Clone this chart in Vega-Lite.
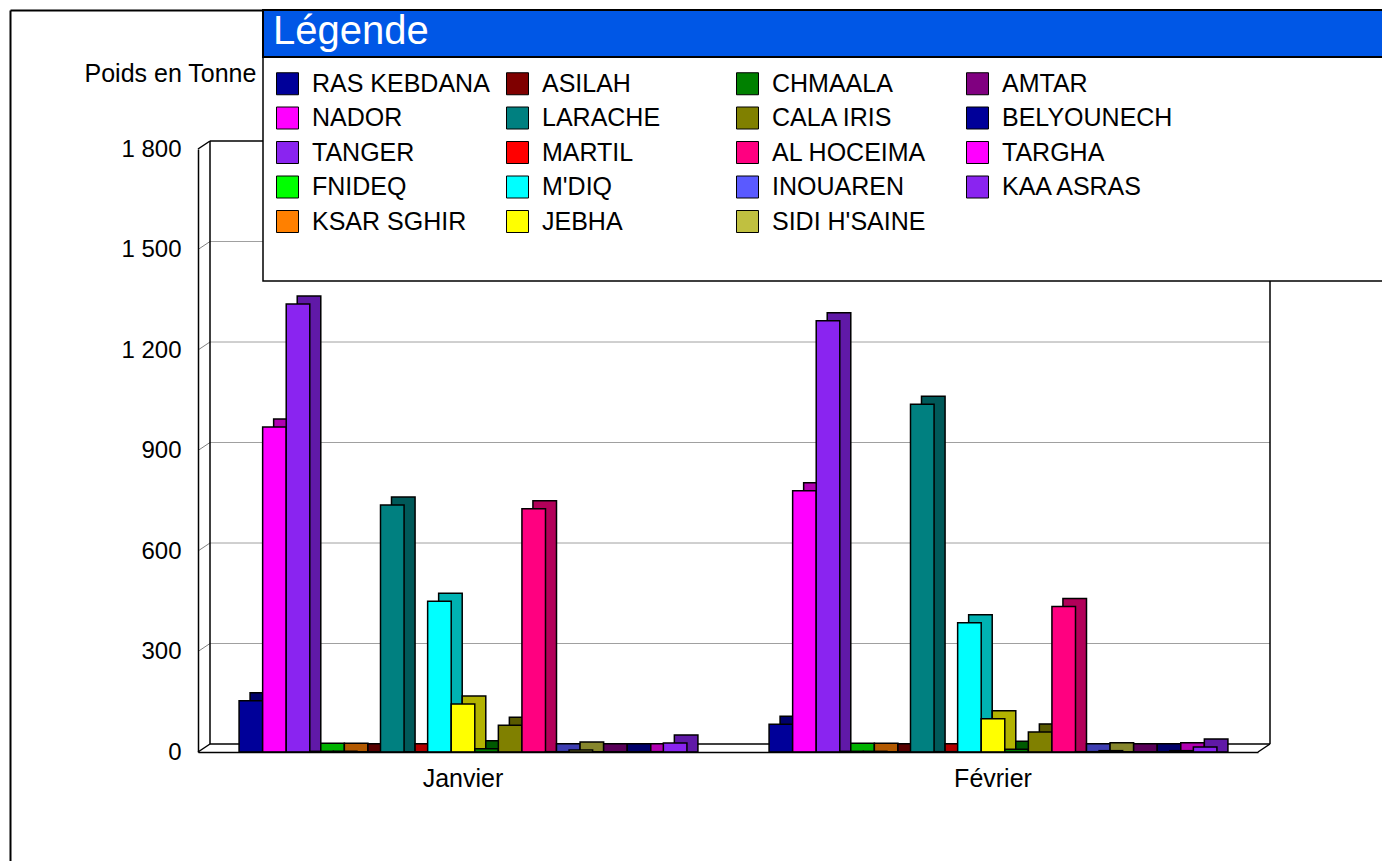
{
  "$schema": "https://vega.github.io/schema/vega-lite/v6.json",
  "width": 1060,
  "height": 603,
  "autosize": {"type": "none"},
  "padding": {"left": 198, "top": 149, "right": 124, "bottom": 109},
  "background": "white",
  "title": {"text": "Légende", "anchor": "start", "frame": "group", "orient": "top", "fontSize": 40, "font": "Liberation Sans", "fontWeight": "normal", "color": "white", "baseline": "alphabetic", "offset": 0, "dx": 75, "dy": 74, "zindex": 4},
  "config": {
    "view": {"stroke": null},
    "font": "Liberation Sans",
    "axis": {"labelFont": "Liberation Sans", "titleFont": "Liberation Sans", "labelColor": "black", "titleColor": "black", "domainColor": "black", "domainWidth": 1.5, "ticks": false, "grid": false, "zindex": 1},
    "legend": {"labelFont": "Liberation Sans", "titleFont": "Liberation Sans"}
  },
  "layer": [
    {
      "data": {"values": [{"k1": 0.5, "k2": 1}]},
      "mark": {"type": "rect", "strokeWidth": 0},
      "encoding": {
        "x": {"datum": 0, "type": "quantitative", "scale": {"domain": [0, 1], "range": [-188, 1300]},
          "axis": {"orient": "top", "offset": 139, "labels": false, "ticks": false, "title": null, "grid": false, "domainColor": "black", "domainWidth": 2, "zindex": 1}},
        "x2": {"datum": 1},
        "y": {"datum": 0, "type": "quantitative", "scale": {"domain": [0, 1], "range": [760, -139]},
          "axis": {"orient": "left", "offset": 188, "labels": false, "ticks": false, "title": null, "grid": false, "domainColor": "black", "domainWidth": 2, "zindex": 1}},
        "y2": {"datum": 1},
        "fill": {"field": "k1", "type": "quantitative", "scale": {"domain": [0, 1], "range": ["white", "white"]},
          "legend": {"orient": "none", "legendX": 65, "legendY": -92, "direction": "horizontal", "gradientLength": 1300, "gradientThickness": 224, "gradientStrokeColor": "black", "gradientStrokeWidth": 1.5, "padding": 0, "title": null, "labelOpacity": 0, "labelFontSize": 1, "labelOffset": 0, "zindex": 1}},
        "stroke": {"field": "k2", "type": "quantitative", "scale": {"domain": [0, 2], "range": ["#0057e6", "#0057e6"]},
          "legend": {"orient": "none", "legendX": 65, "legendY": -139, "direction": "horizontal", "gradientLength": 1300, "gradientThickness": 47, "gradientStrokeColor": "black", "gradientStrokeWidth": 2, "padding": 0, "title": null, "labelOpacity": 0, "labelFontSize": 1, "labelOffset": 0, "zindex": 3}}
      }
    },
    {
      "layer": [
        {
          "layer": [
            {
              "data": {"values": [{"v": 300}, {"v": 600}, {"v": 900}, {"v": 1200}, {"v": 1500}]},
              "layer": [
                {
                  "mark": {"type": "rule", "color": "#a0a0a0", "strokeWidth": 1, "xOffset": 12, "x2Offset": 12, "yOffset": -8},
                  "encoding": {
                    "x": {"datum": 0, "type": "quantitative", "scale": {"domain": [0, 1]}, "axis": null},
                    "x2": {"datum": 1},
                    "y": {"field": "v", "type": "quantitative"}
                  }
                },
                {
                  "mark": {"type": "rule", "color": "#808080", "strokeWidth": 1, "x2Offset": 12, "y2Offset": -8},
                  "encoding": {
                    "x": {"datum": 0, "type": "quantitative", "scale": {"domain": [0, 1]}, "axis": null},
                    "x2": {"datum": 0},
                    "y": {"field": "v", "type": "quantitative"},
                    "y2": {"field": "v"}
                  }
                }
              ]
            },
            {
              "data": {"values": [{"v": 0}, {"v": 1800}]},
              "layer": [
                {
                  "mark": {"type": "rule", "color": "black", "strokeWidth": 1.5, "xOffset": 12, "x2Offset": 12, "yOffset": -8},
                  "encoding": {
                    "x": {"datum": 0, "type": "quantitative", "scale": {"domain": [0, 1]}, "axis": null},
                    "x2": {"datum": 1},
                    "y": {"field": "v", "type": "quantitative"}
                  }
                },
                {
                  "mark": {"type": "rule", "color": "black", "strokeWidth": 1.5, "x2Offset": 12, "y2Offset": -8},
                  "encoding": {
                    "x": {"datum": 0, "type": "quantitative", "scale": {"domain": [0, 1]}, "axis": null},
                    "x2": {"datum": 0},
                    "y": {"field": "v", "type": "quantitative"},
                    "y2": {"field": "v"}
                  }
                }
              ]
            },
            {
              "data": {"values": [{"edge": 0, "v0": 0, "v1": 1800}, {"edge": 1, "v0": 0, "v1": 1800}]},
              "layer": [
                {
                  "mark": {"type": "rule", "color": "black", "strokeWidth": 1.5, "xOffset": 12, "yOffset": -8, "y2Offset": -8},
                  "encoding": {
                    "x": {"field": "edge", "type": "quantitative", "scale": {"domain": [0, 1]}, "axis": null},
                    "y": {"field": "v0", "type": "quantitative"},
                    "y2": {"field": "v1"}
                  }
                },
                {
                  "transform": [{"filter": "datum.edge == 1"}],
                  "mark": {"type": "rule", "color": "black", "strokeWidth": 1.5, "x2Offset": 12, "y2Offset": -8},
                  "encoding": {
                    "x": {"field": "edge", "type": "quantitative", "scale": {"domain": [0, 1]}, "axis": null},
                    "x2": {"field": "edge"},
                    "y": {"field": "v0", "type": "quantitative"},
                    "y2": {"field": "v0"}
                  }
                }
              ]
            }
          ]
        },
        {
          "data": {"values": [
            {"month": "Janvier", "port": "RAS KEBDANA", "value": 153},
            {"month": "Janvier", "port": "NADOR", "value": 970},
            {"month": "Janvier", "port": "TANGER", "value": 1337},
            {"month": "Janvier", "port": "FNIDEQ", "value": 2},
            {"month": "Janvier", "port": "KSAR SGHIR", "value": 2},
            {"month": "Janvier", "port": "ASILAH", "value": 0.5},
            {"month": "Janvier", "port": "LARACHE", "value": 737},
            {"month": "Janvier", "port": "MARTIL", "value": 1},
            {"month": "Janvier", "port": "M'DIQ", "value": 450},
            {"month": "Janvier", "port": "JEBHA", "value": 143},
            {"month": "Janvier", "port": "CHMAALA", "value": 10},
            {"month": "Janvier", "port": "CALA IRIS", "value": 80},
            {"month": "Janvier", "port": "AL HOCEIMA", "value": 726},
            {"month": "Janvier", "port": "INOUAREN", "value": 1},
            {"month": "Janvier", "port": "SIDI H'SAINE", "value": 6},
            {"month": "Janvier", "port": "AMTAR", "value": 0.5},
            {"month": "Janvier", "port": "BELYOUNECH", "value": 0.5},
            {"month": "Janvier", "port": "TARGHA", "value": 1},
            {"month": "Janvier", "port": "KAA ASRAS", "value": 27},
            {"month": "Février", "port": "RAS KEBDANA", "value": 83},
            {"month": "Février", "port": "NADOR", "value": 780},
            {"month": "Février", "port": "TANGER", "value": 1287},
            {"month": "Février", "port": "FNIDEQ", "value": 2},
            {"month": "Février", "port": "KSAR SGHIR", "value": 2},
            {"month": "Février", "port": "ASILAH", "value": 0.5},
            {"month": "Février", "port": "LARACHE", "value": 1038},
            {"month": "Février", "port": "MARTIL", "value": 1},
            {"month": "Février", "port": "M'DIQ", "value": 386},
            {"month": "Février", "port": "JEBHA", "value": 99},
            {"month": "Février", "port": "CHMAALA", "value": 8},
            {"month": "Février", "port": "CALA IRIS", "value": 60},
            {"month": "Février", "port": "AL HOCEIMA", "value": 434},
            {"month": "Février", "port": "INOUAREN", "value": 1},
            {"month": "Février", "port": "SIDI H'SAINE", "value": 4},
            {"month": "Février", "port": "AMTAR", "value": 0.5},
            {"month": "Février", "port": "BELYOUNECH", "value": 0.5},
            {"month": "Février", "port": "TARGHA", "value": 4},
            {"month": "Février", "port": "KAA ASRAS", "value": 15}
          ]},
          "resolve": {"scale": {"xOffset": "independent"}},
          "layer": [
            {
              "mark": {"type": "bar", "yOffset": -8, "y2Offset": 0.01, "stroke": "black", "strokeWidth": 1.5},
              "encoding": {
                "x": {"field": "month", "type": "nominal", "sort": ["Janvier", "Février"], "scale": {"paddingInner": 0.155, "paddingOuter": 0.0775}},
                "xOffset": {"field": "port", "type": "nominal", "sort": ["RAS KEBDANA", "NADOR", "TANGER", "FNIDEQ", "KSAR SGHIR", "ASILAH", "LARACHE", "MARTIL", "M'DIQ", "JEBHA", "CHMAALA", "CALA IRIS", "AL HOCEIMA", "INOUAREN", "SIDI H'SAINE", "AMTAR", "BELYOUNECH", "TARGHA", "KAA ASRAS"], "scale": {"range": [11, 458.85], "paddingInner": 0, "paddingOuter": 0}},
                "y": {"field": "value", "type": "quantitative", "stack": null, "scale": {"domain": [0, 1800], "nice": false}},
                "color": {"field": "port", "type": "nominal",
                  "scale": {"domain": ["RAS KEBDANA", "NADOR", "TANGER", "FNIDEQ", "KSAR SGHIR", "ASILAH", "LARACHE", "MARTIL", "M'DIQ", "JEBHA", "CHMAALA", "CALA IRIS", "AL HOCEIMA", "INOUAREN", "SIDI H'SAINE", "AMTAR", "BELYOUNECH", "TARGHA", "KAA ASRAS"],
                            "range": ["#000099", "#ff00ff", "#8a24f0", "#00ff00", "#ff8000", "#7f0000", "#008080", "#ff0000", "#00ffff", "#ffff00", "#008000", "#808000", "#ff0080", "#5a5aff", "#c0c040", "#800080", "#000099", "#ff00ff", "#8a24f0"]},
                  "legend": {"orient": "none", "legendX": 65, "legendY": -90, "columns": 4, "gridAlign": "all", "columnPadding": 14, "rowPadding": 7.5, "symbolType": "square", "symbolSize": 484, "symbolStrokeColor": "#404040", "symbolStrokeWidth": 1, "symbolOpacity": 1, "labelFontSize": 25, "labelOffset": 12, "labelColor": "black", "labelLimit": 400, "padding": 12, "title": null, "zindex": 2}}
              }
            },
            {
              "mark": {"type": "bar", "yOffset": -8, "y2Offset": 0.01, "fill": "black", "opacity": 0.3, "strokeWidth": 0},
              "encoding": {
                "x": {"field": "month", "type": "nominal", "sort": ["Janvier", "Février"]},
                "xOffset": {"field": "port", "type": "nominal", "sort": ["RAS KEBDANA", "NADOR", "TANGER", "FNIDEQ", "KSAR SGHIR", "ASILAH", "LARACHE", "MARTIL", "M'DIQ", "JEBHA", "CHMAALA", "CALA IRIS", "AL HOCEIMA", "INOUAREN", "SIDI H'SAINE", "AMTAR", "BELYOUNECH", "TARGHA", "KAA ASRAS"], "scale": {"range": [11, 458.85], "paddingInner": 0, "paddingOuter": 0}},
                "y": {"field": "value", "type": "quantitative", "stack": null}
              }
            },
            {
              "mark": {"type": "bar", "stroke": "black", "strokeWidth": 1.5},
              "encoding": {
                "x": {"field": "month", "type": "nominal", "sort": ["Janvier", "Février"],
                  "axis": {"orient": "bottom", "title": null, "labelFontSize": 25, "labelPadding": 26, "labelAngle": 0, "labelAlign": "center", "ticks": false, "domainColor": "black", "domainWidth": 1.5, "zindex": 1}},
                "xOffset": {"field": "port", "type": "nominal", "sort": ["RAS KEBDANA", "NADOR", "TANGER", "FNIDEQ", "KSAR SGHIR", "ASILAH", "LARACHE", "MARTIL", "M'DIQ", "JEBHA", "CHMAALA", "CALA IRIS", "AL HOCEIMA", "INOUAREN", "SIDI H'SAINE", "AMTAR", "BELYOUNECH", "TARGHA", "KAA ASRAS"], "scale": {"range": [0, 447.85], "paddingInner": 0, "paddingOuter": 0}},
                "y": {"field": "value", "type": "quantitative", "stack": null,
                  "axis": {"orient": "left", "title": "Poids en Tonne", "titleAngle": 0, "titleAlign": "left", "titleBaseline": "middle", "titleX": -114, "titleY": -76, "titleFontSize": 25, "titleFontWeight": "normal", "values": [0, 300, 600, 900, 1200, 1500, 1800], "labelExpr": "replace(format(datum.value, ',d'), ',', ' ')", "labelFontSize": 24, "labelPadding": 17, "ticks": false, "grid": false, "domainColor": "black", "domainWidth": 1.5, "zindex": 1}},
                "color": {"field": "port", "type": "nominal"}
              }
            }
          ]
        }
      ],
      "resolve": {"scale": {"x": "independent"}}
    }
  ],
  "resolve": {"scale": {"x": "independent", "y": "independent"}}
}
